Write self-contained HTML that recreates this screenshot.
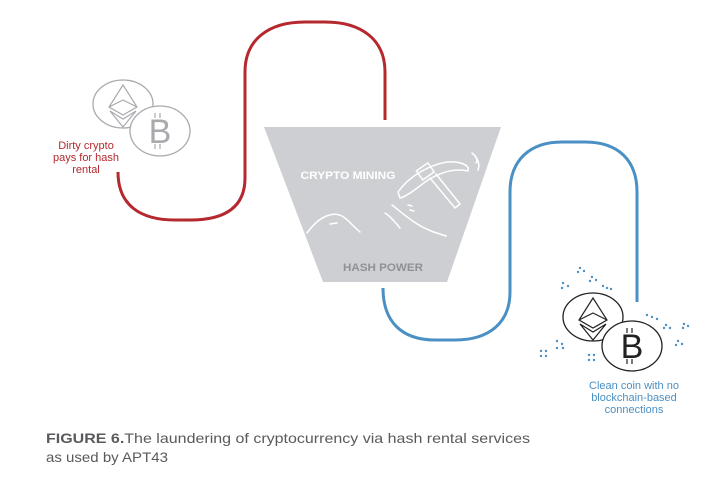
<!DOCTYPE html>
<html><head><meta charset="utf-8"><style>
html,body{margin:0;padding:0;background:#fff;}
svg{display:block;font-family:"Liberation Sans",sans-serif;}
</style></head><body>
<svg width="728" height="482" viewBox="0 0 728 482" xmlns="http://www.w3.org/2000/svg">
<path d="M118,172 C118,205 140,220 175,220 H190 C228,220 245,205 245,178 V72 C245,40 268,22 305,22 H325 C362,22 385,40 385,72 V120" fill="none" stroke="#b5282e" stroke-width="3"/>
<path d="M383,288 C383,322 402,340 435,340 H455 C490,340 510,322 510,292 V192 C510,160 530,142 562,142 H585 C618,142 637,160 637,192 V302" fill="none" stroke="#4a90c4" stroke-width="3"/>
<polygon points="264,127 501,127 447,282 323,282" fill="#cdcfd2"/>
<text x="348" y="179" fill="#fff" font-size="11" font-weight="bold" text-anchor="middle" textLength="95" lengthAdjust="spacingAndGlyphs">CRYPTO MINING</text>
<text x="383" y="271" fill="#8f9196" font-size="11" font-weight="bold" text-anchor="middle" textLength="80" lengthAdjust="spacingAndGlyphs">HASH POWER</text>
<g fill="none" stroke="#fff" stroke-width="1.5" stroke-linecap="round">
<path d="M398,192 C410,175 430,165 447,162 C460,161 470,165 468,171 C455,168 440,172 425,182 C415,190 405,197 400,198 Z"/>
<rect x="418" y="166" width="14" height="11" transform="rotate(-35 425 171)"/>
<path d="M430,178 L455,208 L460,204 L436,174"/>
<path d="M475,156 C478,160 480,165 478,170 M472,153 C476,156 478,160 476,163"/>
<path d="M307,233 C320,215 335,210 345,218 C350,222 355,228 360,232"/>
<path d="M330,224 L337,223"/>
<path d="M385,213 C390,216 395,222 400,228"/>
<path d="M392,205 C405,215 418,228 440,234 C445,236 448,236 445,236"/>
<path d="M410,210 L414,211 M408,205 L412,206"/>
</g>
<g fill="#fff" stroke="#a8aaae" stroke-width="1.3">
<ellipse cx="123" cy="104" rx="30" ry="24"/>
<ellipse cx="160" cy="131" rx="30" ry="25"/>
</g>
<path d="M123,85 L109,107 L123,115 L137,107 Z M109,107 L123,100 L137,107 M110,111 L123,127 L136,111 L123,119 Z" fill="none" stroke="#a8aaae" stroke-width="1.2"/>
<text x="160" y="143" fill="#a8aaae" font-size="34" text-anchor="middle">B</text>
<path d="M155,113 V118 M160,113 V118 M155,144 V149 M160,144 V149" stroke="#a8aaae" stroke-width="1.2"/>
<g fill="#fff" stroke="#222" stroke-width="1.3">
<ellipse cx="593" cy="317" rx="30" ry="24"/>
<ellipse cx="632" cy="346" rx="30" ry="25"/>
</g>
<path d="M593,298 L579,320 L593,328 L607,320 Z M579,320 L593,313 L607,320 M580,324 L593,340 L606,324 L593,332 Z" fill="none" stroke="#222" stroke-width="1.2"/>
<text x="632" y="358" fill="#222" font-size="34" text-anchor="middle">B</text>
<path d="M627,328 V333 M632,328 V333 M627,359 V364 M632,359 V364" stroke="#222" stroke-width="1.2"/>
<g fill="#4a90c4">
<circle cx="580" cy="268" r="1.2"/><circle cx="584" cy="271" r="1.2"/><circle cx="578" cy="272" r="1.2"/>
<circle cx="592" cy="277" r="1.2"/><circle cx="596" cy="280" r="1.2"/><circle cx="590" cy="281" r="1.2"/>
<circle cx="563" cy="283" r="1.2"/><circle cx="568" cy="286" r="1.2"/><circle cx="562" cy="288" r="1.2"/>
<circle cx="603" cy="286" r="1.2"/><circle cx="607" cy="288" r="1.2"/><circle cx="611" cy="289" r="1.2"/>
<circle cx="647" cy="315" r="1.2"/><circle cx="652" cy="317" r="1.2"/><circle cx="657" cy="319" r="1.2"/>
<circle cx="666" cy="325" r="1.2"/><circle cx="670" cy="328" r="1.2"/><circle cx="664" cy="328" r="1.2"/>
<circle cx="684" cy="324" r="1.2"/><circle cx="688" cy="326" r="1.2"/><circle cx="683" cy="328" r="1.2"/>
<circle cx="678" cy="341" r="1.2"/><circle cx="682" cy="344" r="1.2"/><circle cx="676" cy="345" r="1.2"/>
<circle cx="557" cy="341" r="1.2"/><circle cx="562" cy="344" r="1.2"/><circle cx="557" cy="348" r="1.2"/><circle cx="563" cy="348" r="1.2"/>
<circle cx="541" cy="351" r="1.2"/><circle cx="546" cy="351" r="1.2"/><circle cx="541" cy="356" r="1.2"/><circle cx="546" cy="356" r="1.2"/>
<circle cx="589" cy="355" r="1.2"/><circle cx="594" cy="355" r="1.2"/><circle cx="589" cy="360" r="1.2"/><circle cx="594" cy="360" r="1.2"/>
</g>
<g fill="#b5282e" font-size="11" text-anchor="middle">
<text x="86" y="149">Dirty crypto</text>
<text x="86" y="161">pays for hash</text>
<text x="86" y="173">rental</text>
</g>
<g fill="#4a90c4" font-size="11" text-anchor="middle">
<text x="634" y="389">Clean coin with no</text>
<text x="634" y="401">blockchain-based</text>
<text x="634" y="413">connections</text>
</g>
<text x="46" y="443" fill="#5a5a5e" font-size="14" textLength="484" lengthAdjust="spacingAndGlyphs"><tspan font-weight="bold">FIGURE 6.</tspan>The laundering of cryptocurrency via hash rental services</text>
<text x="46" y="462" fill="#5a5a5e" font-size="14" textLength="122" lengthAdjust="spacingAndGlyphs">as used by APT43</text>
</svg>
</body></html>
